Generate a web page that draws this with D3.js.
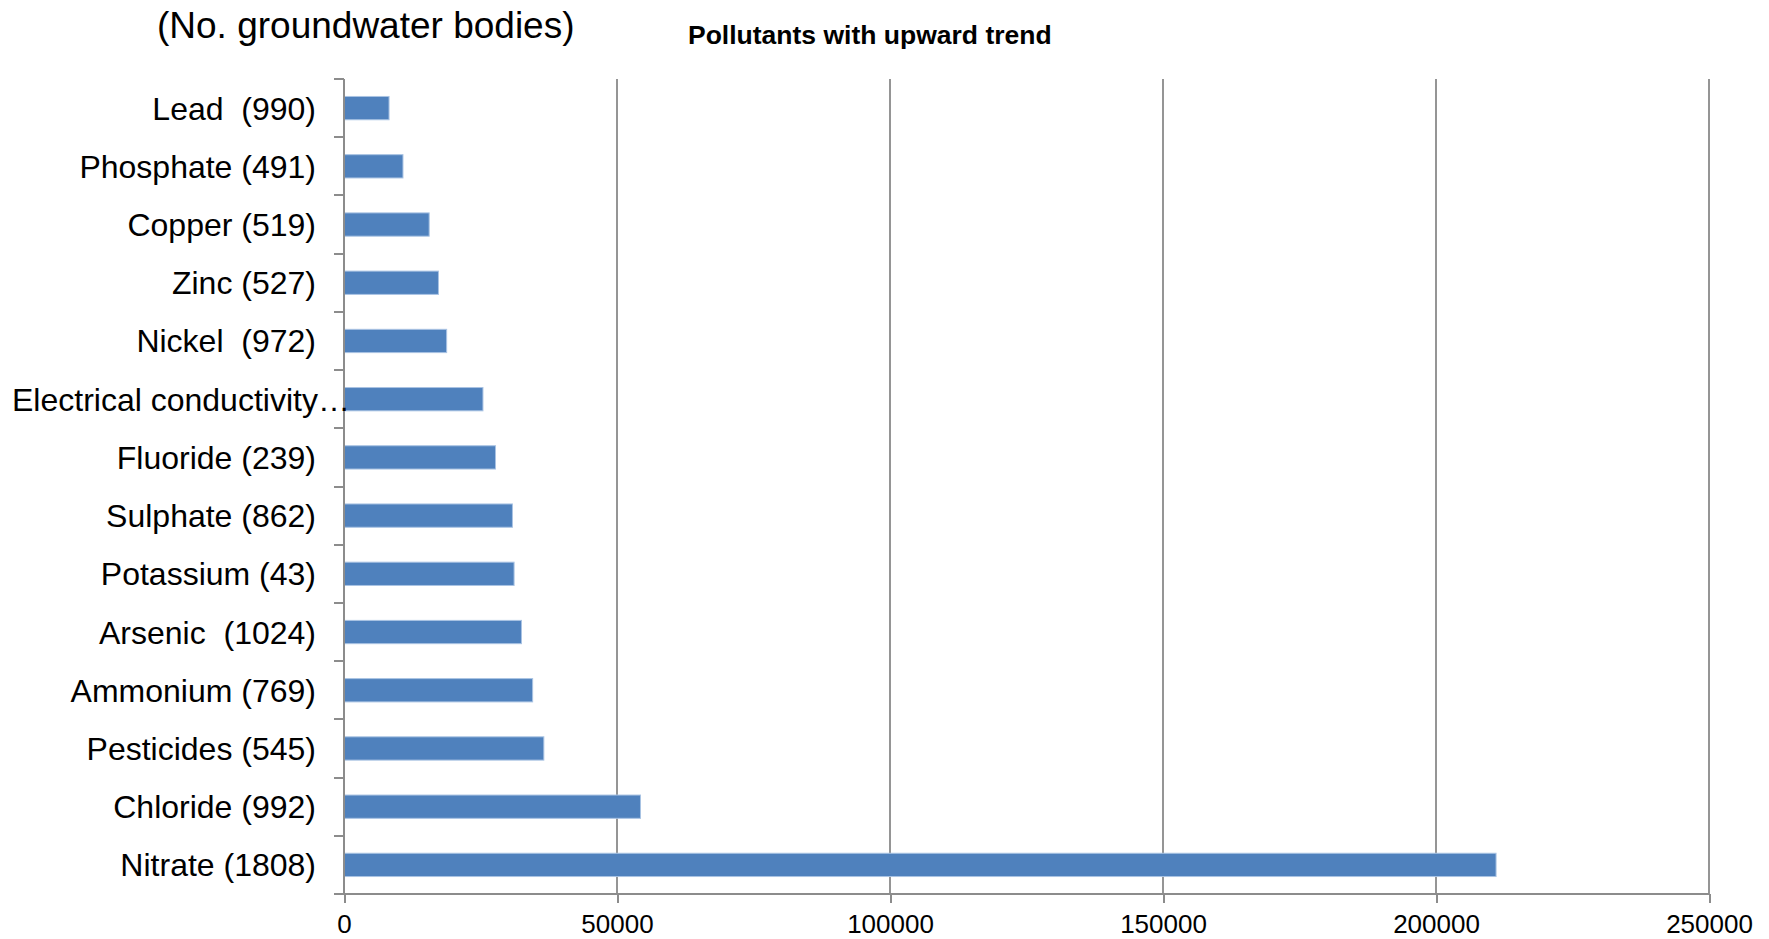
<!DOCTYPE html>
<html>
<head>
<meta charset="utf-8">
<script src="https://cdn.jsdelivr.net/npm/d3@7"></script>
<style>
  body { margin: 0; background: #fff; }
  svg { display: block; font-family: "Liberation Sans", Arial, sans-serif; }
  .grid line { stroke: #959595; stroke-width: 2; shape-rendering: crispEdges; }
  .axis path, .axis line { stroke: #8c8c8c; stroke-width: 2; shape-rendering: crispEdges; }
  .axis text { fill: #000; }
</style>
</head>
<body>
<svg id="chart" width="1769" height="939"></svg>
<script>
// categories, top to bottom
const categories = [
  'Lead  (990)',
  'Phosphate (491)',
  'Copper (519)',
  'Zinc (527)',
  'Nickel  (972)',
  'Electrical conductivity…',
  'Fluoride (239)',
  'Sulphate (862)',
  'Potassium (43)',
  'Arsenic  (1024)',
  'Ammonium (769)',
  'Pesticides (545)',
  'Chloride (992)',
  'Nitrate (1808)'
]

const values = [8250, 10800, 15600, 17300, 18800, 25450, 27750, 30850, 31150, 32500, 34550, 36600, 54300, 211000]

const xTicks = [0, 50000, 100000, 150000, 200000, 250000]

const chartTitle = 'Pollutants with upward trend'
const unitLabel = '(No. groundwater bodies)'

//

const svg = d3.select('#chart')
const plotLeft = 344
const plotRight = 1709
const plotTop = 79
const plotBottom = 894

const data = categories.map((c, i) => ({ name: c, value: values[i] }))

const x = d3.scaleLinear()
  .domain([0, 250000])
  .range([plotLeft, plotRight])

const y = d3.scaleBand()
  .domain(categories)
  .range([plotTop, plotBottom])
  .paddingInner(0.6)
  .paddingOuter(0.3)

// vertical gridlines
svg.append('g')
  .attr('class', 'grid')
  .selectAll('line')
  .data(xTicks.slice(1))
  .enter()
  .append('line')
  .attr('x1', (d) => x(d))
  .attr('x2', (d) => x(d))
  .attr('y1', plotTop)
  .attr('y2', plotBottom)

// bars
svg.append('g')
  .selectAll('rect')
  .data(data)
  .enter()
  .append('rect')
  .attr('x', x(0))
  .attr('y', (d) => y(d.name))
  .attr('width', (d) => x(d.value) - x(0))
  .attr('height', y.bandwidth())
  .attr('fill', '#4f81bd')
  .attr('stroke', '#a9c3e3')
  .attr('stroke-width', 1)

// x axis
const xAxis = d3.axisBottom(x)
  .tickValues(xTicks)
  .tickSize(9)
  .tickSizeOuter(0)
  .tickPadding(12)
  .tickFormat(d3.format('d'))

const gX = svg.append('g')
  .attr('class', 'axis axis--x')
  .attr('transform', `translate(0, ${plotBottom})`)
  .call(xAxis)

gX.select('.domain').attr('d', `M${plotLeft - 10},0H${plotRight}`)
gX.selectAll('text')
  .style('font-size', '26px')
  .attr('dy', '0.71em')

// y axis: ticks sit on band boundaries
const boundaries = d3.range(categories.length + 1).map((i) => plotTop + i * y.step())

const gY = svg.append('g')
  .attr('class', 'axis axis--y')

gY.append('line')
  .attr('x1', plotLeft)
  .attr('x2', plotLeft)
  .attr('y1', plotTop)
  .attr('y2', plotBottom)

gY.selectAll('line.tick')
  .data(boundaries)
  .enter()
  .append('line')
  .attr('class', 'tick')
  .attr('x1', plotLeft - 10)
  .attr('x2', plotLeft)
  .attr('y1', (d) => d)
  .attr('y2', (d) => d)

// category labels
svg.append('g')
  .selectAll('text')
  .data(data)
  .enter()
  .append('text')
  .attr('x', (d) => d.name.endsWith('…') ? 12 : 316)
  .attr('y', (d) => y(d.name) + y.bandwidth() / 2)
  .attr('dy', '0.36em')
  .attr('text-anchor', (d) => d.name.endsWith('…') ? 'start' : 'end')
  .style('font-size', '32px')
  .style('white-space', 'pre')
  .attr('fill', '#000')
  .text((d) => d.name)

// titles
svg.append('text')
  .attr('x', 157)
  .attr('y', 38)
  .style('font-size', '37px')
  .attr('fill', '#000')
  .text(unitLabel)

svg.append('text')
  .attr('x', 688)
  .attr('y', 44)
  .style('font-size', '26.5px')
  .style('font-weight', 'bold')
  .attr('fill', '#000')
  .text(chartTitle)
</script>
</body>
</html>
